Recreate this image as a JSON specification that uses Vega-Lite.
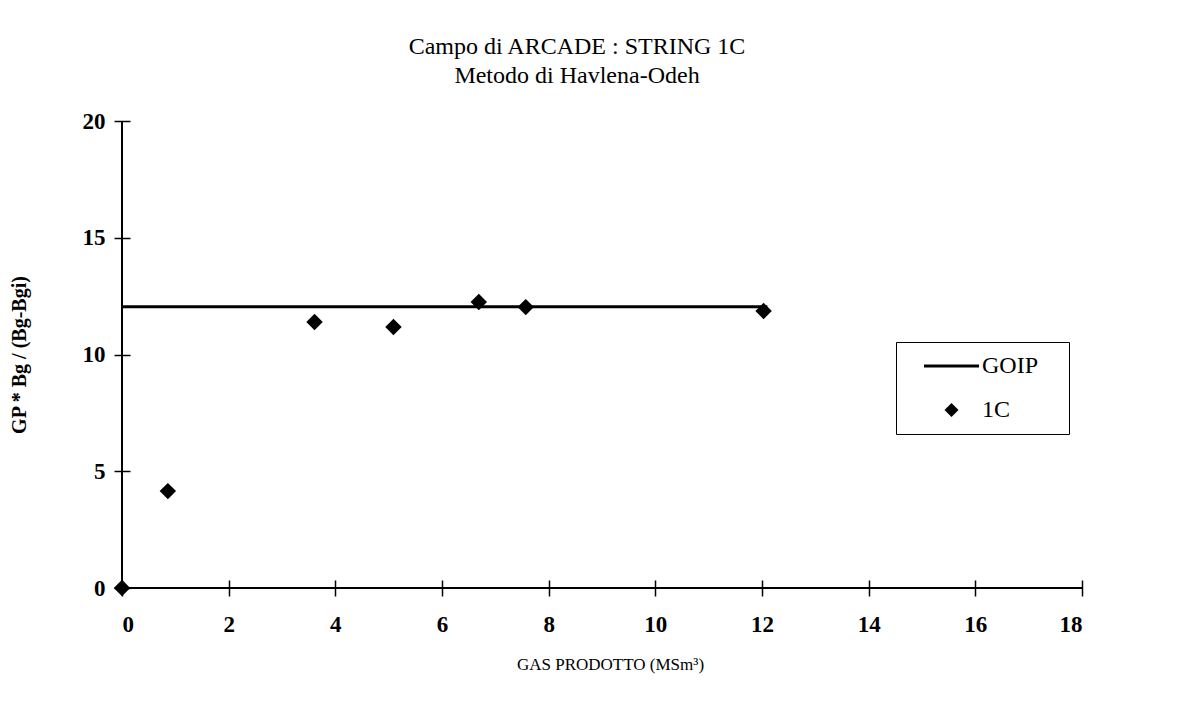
{
  "$schema": "https://vega.github.io/schema/vega-lite/v6.json",
  "width": 960,
  "height": 467,
  "autosize": {"type": "none"},
  "padding": {"left": 122, "top": 121, "right": 107, "bottom": 117},
  "background": "white",
  "config": {
    "view": {"stroke": null},
    "font": "Liberation Serif",
    "axis": {
      "grid": false,
      "domain": false,
      "tickColor": "black",
      "tickWidth": 1.5,
      "tickSize": 16,
      "offset": -8,
      "labelFont": "Liberation Serif",
      "labelFontSize": 23,
      "labelFontWeight": "bold",
      "labelColor": "black",
      "titleFont": "Liberation Serif",
      "titleColor": "black"
    }
  },
  "title": {
    "text": ["Campo di ARCADE : STRING 1C", "Metodo di Havlena-Odeh"],
    "font": "Liberation Serif",
    "fontSize": 24,
    "fontWeight": "normal",
    "lineHeight": 29,
    "anchor": "middle",
    "dx": -25,
    "offset": 22,
    "color": "black"
  },
  "data": {
    "values": [
      {"series": "GOIP", "x": 0, "y": 12.05},
      {"series": "GOIP", "x": 12.1, "y": 12.05},
      {"series": "1C", "x": 0, "y": 0},
      {"series": "1C", "x": 0.86, "y": 4.15},
      {"series": "1C", "x": 3.61, "y": 11.39},
      {"series": "1C", "x": 5.09, "y": 11.18},
      {"series": "1C", "x": 6.69, "y": 12.25},
      {"series": "1C", "x": 7.57, "y": 12.03},
      {"series": "1C", "x": 12.03, "y": 11.86}
    ]
  },
  "encoding": {
    "x": {
      "field": "x",
      "type": "quantitative",
      "scale": {"domain": [0, 18], "nice": false, "zero": false},
      "axis": {
        "values": [0, 2, 4, 6, 8, 10, 12, 14, 16, 18],
        "labelPadding": 17,
        "title": "GAS PRODOTTO  (MSm³)",
        "titleFontSize": 17,
        "titleFontWeight": "normal",
        "titlePadding": 20,
        "titleX": 488
      }
    },
    "y": {
      "field": "y",
      "type": "quantitative",
      "scale": {"domain": [0, 20], "nice": false, "zero": false},
      "axis": {
        "values": [0, 5, 10, 15, 20],
        "labelPadding": 9,
        "title": "GP * Bg / (Bg-Bgi)",
        "titleFontSize": 20,
        "titleFontWeight": "bold",
        "titlePadding": 53
      }
    }
  },
  "layer": [
    {
      "mark": {"type": "rule", "color": "black", "strokeWidth": 2},
      "encoding": {"x": {"datum": 0}, "y": {"datum": 0}, "y2": {"datum": 20}}
    },
    {
      "mark": {"type": "rule", "color": "black", "strokeWidth": 2},
      "encoding": {"x": {"datum": 0}, "x2": {"datum": 18}, "y": {"datum": 0}}
    },
    {
      "transform": [{"filter": "datum.series === 'GOIP'"}],
      "mark": {"type": "line", "color": "black", "strokeWidth": 3}
    },
    {
      "transform": [{"filter": "datum.series === '1C'"}],
      "mark": {"type": "point", "shape": "diamond", "filled": true, "color": "black", "size": 270, "opacity": 1}
    },
    {
      "transform": [{"filter": "datum.series === '1C'"}],
      "mark": {"type": "point", "filled": true, "color": "black", "opacity": 0},
      "encoding": {
        "shape": {
          "field": "series",
          "type": "nominal",
          "scale": {
            "domain": ["GOIP", "1C"],
            "range": [
              "M0.4,-0.15L5.9,-0.15L5.9,0.15L0.4,0.15Z",
              "M2.45,0L3.15,-0.7L3.85,0L3.15,0.7Z"
            ]
          },
          "legend": {
            "title": "I",
            "titleOrient": "right",
            "titleColor": "white",
            "titleFontSize": 12,
            "titlePadding": 14,
            "orient": "none",
            "legendX": 774,
            "legendY": 221,
            "direction": "vertical",
            "strokeColor": "black",
            "fillColor": "white",
            "padding": 12,
            "symbolSize": 400,
            "symbolOpacity": 1,
            "symbolStrokeColor": "black",
            "symbolFillColor": "black",
            "symbolStrokeWidth": 0,
            "labelFont": "Liberation Serif",
            "labelFontSize": 24,
            "labelColor": "black",
            "labelOffset": 50,
            "rowPadding": 20
          }
        }
      }
    }
  ]
}
